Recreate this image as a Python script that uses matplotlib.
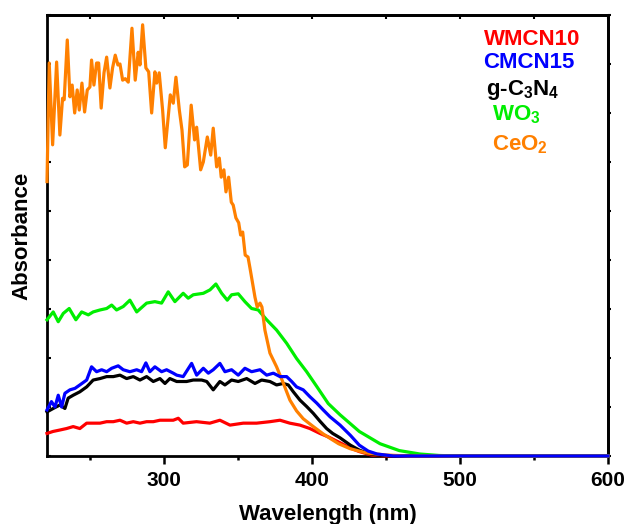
import matplotlib

matplotlib.use("Agg")
import matplotlib.pyplot as plt

plt.rcParams["font.family"] = ["Liberation Sans", "DejaVu Sans"]
plt.rcParams["font.weight"] = "bold"
plt.rcParams["mathtext.fontset"] = "custom"
plt.rcParams["mathtext.rm"] = "Liberation Sans:bold"
plt.rcParams["mathtext.bf"] = "Liberation Sans:bold"

# UV-vis absorbance traces
wl_ceo2 = [221.0, 222.5, 224.8, 227.5, 229.7, 231.5, 232.6, 234.7, 236.5, 238.0, 239.7, 241.4,
           242.8, 244.6, 246.4, 248.2, 250.0, 251.1, 252.7, 254.5, 255.9, 257.6, 259.5, 261.3,
           263.5, 265.3, 267.1, 268.9, 270.3, 272.1, 273.9, 275.9, 278.4, 280.6, 282.6, 283.8,
           285.6, 287.8, 289.7, 291.7, 293.9, 295.1, 296.8, 299.1, 300.9, 304.3, 306.3, 308.1,
           310.4, 312.2, 314.0, 315.8, 318.4, 320.7, 322.1, 324.8, 326.6, 329.3, 331.6, 333.3,
           335.6, 337.4, 338.7, 340.5, 341.9, 343.7, 345.5, 346.8, 348.6, 350.5, 351.8, 353.2,
           354.9, 356.8, 358.1, 361.5, 363.0, 364.9, 366.2, 368.2, 371.6, 376.1, 380.6, 385.1,
           389.6, 394.1, 400.9, 407.6, 412.2, 418.0, 425.7, 437.0, 450.0, 465.0, 600.0]
ab_ceo2 = [5.6, 8.02, 6.35, 8.04, 6.55, 7.3, 7.27, 8.49, 7.33, 7.57, 7.0, 7.47,
           7.06, 7.61, 7.02, 7.47, 7.53, 8.08, 7.57, 8.02, 8.02, 7.1, 7.82, 8.14,
           7.51, 7.92, 8.18, 7.98, 8.0, 7.67, 7.7, 7.63, 8.73, 7.67, 8.24, 7.98,
           8.8, 7.92, 7.84, 7.0, 7.84, 7.61, 7.82, 7.06, 6.29, 7.37, 7.2, 7.73,
           7.06, 6.65, 5.9, 5.94, 7.16, 6.45, 6.71, 5.84, 6.0, 6.51, 6.14, 6.69,
           5.9, 6.08, 5.69, 5.84, 5.39, 5.69, 5.18, 5.12, 4.86, 4.76, 4.51, 4.57,
           4.10, 4.06, 3.84, 3.24, 3.04, 3.12, 3.04, 2.57, 2.1, 1.82, 1.49, 1.14,
           0.92, 0.76, 0.6, 0.45, 0.36, 0.25, 0.15, 0.06, 0.02, 0.0, 0.0]

wl_wo3 = [221.0, 225.2, 228.6, 232.0, 236.0, 240.5, 244.4, 248.9, 252.2, 256.8, 261.3, 264.7,
          268.0, 272.5, 277.0, 281.6, 288.3, 293.9, 298.4, 302.9, 307.4, 313.0, 316.4, 319.8,
          326.6, 331.1, 335.1, 339.0, 342.8, 345.7, 350.2, 354.7, 359.2, 363.7, 369.4, 376.1,
          382.9, 389.6, 396.4, 403.2, 411.0, 419.0, 432.0, 446.0, 459.0, 473.0, 486.0, 500.0, 600.0]
ab_wo3 = [2.78, 2.94, 2.74, 2.91, 3.01, 2.78, 2.94, 2.88, 2.94, 2.98, 3.01, 3.08,
          2.98, 3.05, 3.18, 2.94, 3.12, 3.15, 3.12, 3.35, 3.15, 3.32, 3.22, 3.29,
          3.32, 3.39, 3.51, 3.32, 3.18, 3.29, 3.31, 3.15, 3.01, 2.98, 2.78, 2.57,
          2.30, 1.99, 1.72, 1.42, 1.07, 0.84, 0.5, 0.25, 0.11, 0.04, 0.01, 0.0, 0.0]

wl_cmcn15 = [221.0, 224.0, 226.4, 228.6, 230.9, 233.1, 236.5, 239.9, 243.2, 247.8, 251.1, 254.5,
             257.9, 261.3, 264.7, 269.1, 272.5, 277.0, 281.6, 284.9, 287.8, 290.5, 293.9, 298.4,
             301.8, 306.3, 308.6, 313.0, 318.7, 322.1, 326.6, 330.0, 333.3, 337.8, 341.2, 345.7,
             350.2, 354.7, 359.2, 364.9, 369.4, 373.9, 378.4, 382.9, 386.3, 389.6, 394.1, 398.6,
             403.2, 407.6, 412.2, 419.0, 426.0, 432.0, 438.0, 444.0, 455.0, 600.0]
ab_cmcn15 = [0.94, 1.11, 1.0, 1.24, 1.0, 1.28, 1.35, 1.38, 1.45, 1.55, 1.82, 1.72,
             1.76, 1.72, 1.79, 1.84, 1.76, 1.72, 1.76, 1.72, 1.9, 1.72, 1.82, 1.72,
             1.76, 1.69, 1.65, 1.62, 1.89, 1.65, 1.79, 1.69, 1.76, 1.89, 1.72, 1.76,
             1.65, 1.79, 1.72, 1.76, 1.65, 1.69, 1.62, 1.62, 1.52, 1.41, 1.35, 1.21,
             1.08, 0.94, 0.80, 0.63, 0.42, 0.22, 0.1, 0.04, 0.0, 0.0]

wl_gcn = [221.0, 225.2, 229.7, 233.1, 235.3, 238.7, 243.2, 247.8, 252.2, 256.8, 261.3, 265.8,
          270.3, 274.8, 279.3, 283.8, 288.3, 292.8, 297.3, 300.7, 304.0, 308.6, 315.3, 319.8,
          325.5, 328.9, 333.3, 337.8, 341.2, 345.7, 350.2, 355.9, 361.5, 366.0, 371.6, 376.1,
          380.6, 384.0, 387.4, 391.9, 396.4, 400.9, 405.4, 409.9, 414.0, 419.0, 426.0, 432.0,
          438.0, 444.0, 455.0, 600.0]
ab_gcn = [0.9, 0.97, 1.04, 0.97, 1.18, 1.24, 1.31, 1.41, 1.55, 1.58, 1.62, 1.62,
          1.65, 1.58, 1.62, 1.55, 1.62, 1.52, 1.58, 1.48, 1.58, 1.52, 1.52, 1.55,
          1.55, 1.52, 1.35, 1.52, 1.45, 1.55, 1.52, 1.58, 1.48, 1.55, 1.52, 1.45,
          1.48, 1.45, 1.31, 1.14, 1.01, 0.87, 0.71, 0.56, 0.46, 0.37, 0.22, 0.12,
          0.05, 0.02, 0.0, 0.0]

wl_wmcn10 = [221.0, 225.0, 229.7, 234.2, 238.7, 243.2, 247.8, 252.2, 256.8, 261.3, 265.8, 270.3,
             274.8, 279.3, 283.8, 288.3, 292.8, 297.3, 301.8, 306.3, 309.7, 313.0, 322.0, 331.0,
             337.8, 344.6, 353.6, 362.6, 371.6, 378.4, 385.0, 391.9, 398.6, 405.4, 411.0, 419.0,
             426.0, 432.0, 440.0, 450.0, 600.0]
ab_wmcn10 = [0.46, 0.5, 0.53, 0.56, 0.6, 0.56, 0.67, 0.67, 0.67, 0.7, 0.7, 0.73,
             0.67, 0.7, 0.67, 0.7, 0.7, 0.73, 0.73, 0.73, 0.77, 0.67, 0.7, 0.67,
             0.73, 0.63, 0.67, 0.67, 0.7, 0.73, 0.67, 0.63, 0.56, 0.46, 0.39, 0.27,
             0.16, 0.09, 0.02, 0.0, 0.0]

series = [
    ("WMCN10", wl_wmcn10, ab_wmcn10, "#ff0000"),
    ("g-C$_\\mathbf{3}$N$_\\mathbf{4}$", wl_gcn, ab_gcn, "#000000"),
    ("WO$_\\mathbf{3}$", wl_wo3, ab_wo3, "#00ee00"),
    ("CeO$_\\mathbf{2}$", wl_ceo2, ab_ceo2, "#ff8000"),
    ("CMCN15", wl_cmcn15, ab_cmcn15, "#0000ff"),
]

# label text, colour, left x and baseline y (axes fraction)
labels = [
    ("WMCN10", "#ff0000", 0.779, 0.932),
    ("CMCN15", "#0000ff", 0.777, 0.880),
    ("g-C$_\\mathbf{3}$N$_\\mathbf{4}$", "#000000", 0.782, 0.819),
    ("WO$_\\mathbf{3}$", "#00ee00", 0.793, 0.760),
    ("CeO$_\\mathbf{2}$", "#ff8000", 0.793, 0.694),
]

fig = plt.figure(figsize=(6.3, 5.24), dpi=100)
ax = fig.add_axes([0.0746, 0.1298, 0.8905, 0.8416])

for name, wl, ab, color in series:
    ax.plot(wl, ab, color=color, lw=2.3, clip_on=False, zorder=3)

ax.set_xlim(221, 600)
ax.set_ylim(0, 9)
ax.set_xticks([300, 400, 500, 600])
ax.set_xticks([250, 350, 450, 550], minor=True)
ax.set_yticks(range(0, 10))
ax.set_yticklabels([])

for s in ax.spines.values():
    s.set_linewidth(2.0)

ax.tick_params(axis="x", which="major", direction="out", length=6, width=1.8,
               labelsize=15, pad=5, top=False)
ax.tick_params(axis="x", which="minor", direction="out", length=3, width=1.8, top=False)
ax.tick_params(axis="y", which="major", direction="in", length=3, width=1.5, right=False)

for t in ax.get_xticklabels():
    t.set_fontweight("bold")

top = ax.secondary_xaxis("top")
top.set_xticks([250, 300, 350, 400, 450, 500, 550, 600])
top.set_xticklabels([])
top.tick_params(direction="in", length=3, width=1.5)
top.spines["top"].set_linewidth(2.0)

right = ax.secondary_yaxis("right")
right.set_yticks(range(0, 10))
right.set_yticklabels([])
right.tick_params(direction="out", length=2, width=1.5)
right.spines["right"].set_linewidth(2.0)

ax.set_xlabel("Wavelength (nm)", fontsize=16, fontweight="bold", labelpad=10)
ax.set_ylabel("Absorbance", fontsize=16, fontweight="bold", labelpad=7)

for text, color, x, y in labels:
    ax.text(x, y, text, color=color, fontsize=16, fontweight="bold",
            transform=ax.transAxes, ha="left", va="baseline")

fig.savefig("out.png", dpi=100)
